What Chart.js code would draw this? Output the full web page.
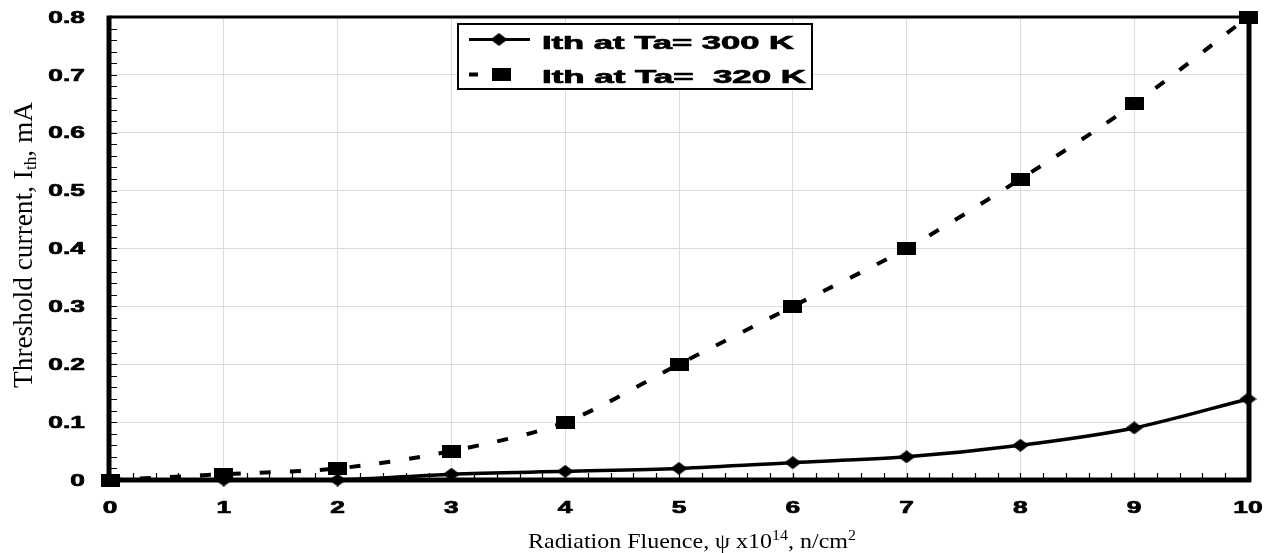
<!DOCTYPE html>
<html>
<head>
<meta charset="utf-8">
<script src="https://cdn.jsdelivr.net/npm/chart.js@4/dist/chart.umd.min.js"></script>
<style>
html,body{margin:0;padding:0;background:#fff;}
#wrap{width:1269px;height:553px;position:relative;}
</style>
</head>
<body>
<div id="wrap"><canvas id="c" width="1269" height="553"></canvas></div>
<script>
// ---- data ----
const fluence = [0, 1, 2, 3, 4, 5, 6, 7, 8, 9, 10];
const ith300 = [0, 0, 0, 0.01, 0.015, 0.02, 0.03, 0.04, 0.06, 0.09, 0.14];
const ith320 = [0, 0.01, 0.02, 0.05, 0.1, 0.2, 0.3, 0.4, 0.52, 0.65, 0.8];
const xTickLabels = ['0', '1', '2', '3', '4', '5', '6', '7', '8', '9', '10'];
const yTickLabels = ['0', '0.1', '0.2', '0.3', '0.4', '0.5', '0.6', '0.7', '0.8'];
const seriesLabels = ['Ith at Ta= 300 K', 'Ith at Ta=  320 K'];
const xTitleParts = [['Radiation Fluence, \u03C8 x10', false], ['14', true], [', n/cm', false], ['2', true]];
const yTitleParts = [['Threshold current, I', 0], ['th', 1], [', mA', 0]];

// ---- marker images ----
function makeSquare(w, h) {
  const c = document.createElement('canvas'); c.width = w; c.height = h;
  const g = c.getContext('2d'); g.fillStyle = '#000'; g.fillRect(0, 0, w, h); return c;
}
function makeDiamond(w, h) {
  const c = document.createElement('canvas'); c.width = w; c.height = h;
  const g = c.getContext('2d'); g.fillStyle = '#000';
  g.beginPath(); g.moveTo(w / 2, 0); g.lineTo(w, h / 2); g.lineTo(w / 2, h); g.lineTo(0, h / 2); g.closePath(); g.fill();
  return c;
}
const sq = makeSquare(19, 13);
const dia = makeDiamond(17, 13);

const SERIF = '"Liberation Serif","Times New Roman",serif';
const SANSB = '"Liberation Sans",Arial,sans-serif';
const TICKFONT = 'bold 17px ' + SANSB;
const STRETCH = 1.55;

function stretchedText(ctx, t, x, y, sx, align, heavy) {
  const w = ctx.measureText(t).width * sx;
  let x0 = x;
  if (align === 'right') x0 = x - w; else if (align === 'center') x0 = x - w / 2;
  ctx.save(); ctx.translate(x0, y); ctx.scale(sx, 1);
  ctx.fillText(t, 0, 0);
  if (heavy) { ctx.lineWidth = heavy; ctx.strokeStyle = ctx.fillStyle; ctx.lineJoin = 'round'; ctx.strokeText(t, 0, 0); }
  ctx.restore();
}

const framePlugin = {
  id: 'frame',
  beforeDatasetsDraw(chart) {
    const ctx = chart.ctx;
    const a = chart.chartArea, xs = chart.scales.x, ys = chart.scales.y;
    ctx.save();
    ctx.strokeStyle = '#000';
    // minor ticks
    ctx.lineWidth = 1.2;
    ctx.beginPath();
    for (let v = 0; v <= 0.8001; v += 0.02) {
      const y = Math.round(ys.getPixelForValue(v)) + 0.5;
      ctx.moveTo(a.left, y); ctx.lineTo(a.left + 7, y);
    }
    for (let v = 0; v <= 10.001; v += 0.2) {
      const x = Math.round(xs.getPixelForValue(v)) + 0.5;
      ctx.moveTo(x, a.bottom); ctx.lineTo(x, a.bottom - 7);
    }
    ctx.stroke();
    // frame
    ctx.lineWidth = 3;
    ctx.beginPath(); ctx.moveTo(a.left, a.top); ctx.lineTo(a.right + 2, a.top); ctx.stroke();
    ctx.lineWidth = 5;
    ctx.beginPath(); ctx.moveTo(a.left - 1, a.top - 1.5); ctx.lineTo(a.left - 1, a.bottom); ctx.stroke();
    ctx.beginPath(); ctx.moveTo(a.left - 3, a.bottom); ctx.lineTo(a.right + 3, a.bottom); ctx.stroke();
    ctx.beginPath(); ctx.moveTo(a.right + 1, a.top - 1.5); ctx.lineTo(a.right + 1, a.bottom + 2); ctx.stroke();

    // tick labels (positions from the library's scales)
    ctx.fillStyle = '#000';
    ctx.font = TICKFONT;
    ctx.textBaseline = 'middle';
    ys.ticks.forEach((tk, i) => {
      const y = ys.getPixelForValue(tk.value);
      stretchedText(ctx, yTickLabels[i] !== undefined ? yTickLabels[i] : String(tk.value), 85, y + 1, STRETCH, 'right', 0.7);
    });
    xs.ticks.forEach((tk, i) => {
      const x = xs.getPixelForValue(tk.value);
      stretchedText(ctx, xTickLabels[i] !== undefined ? xTickLabels[i] : String(tk.value), x, 508, STRETCH, 'center', 0.7);
    });
    ctx.restore();
  },
  afterDatasetsDraw(chart) {
    const ctx = chart.ctx, a = chart.chartArea;
    ctx.save();
    // legend
    const bx = 458, by = 24, bw = 354, bh = 65;
    ctx.fillStyle = '#fff'; ctx.fillRect(bx, by, bw, bh);
    ctx.strokeStyle = '#000'; ctx.lineWidth = 2; ctx.strokeRect(bx, by, bw, bh);
    ctx.lineWidth = 3; ctx.beginPath(); ctx.moveTo(469, 39.5); ctx.lineTo(530, 39.5); ctx.stroke();
    ctx.drawImage(dia, 499 - dia.width / 2, 39.5 - dia.height / 2);
    ctx.lineWidth = 4; ctx.beginPath(); ctx.moveTo(469, 74.5); ctx.lineTo(478, 74.5); ctx.stroke();
    ctx.drawImage(sq, 501 - sq.width / 2, 74.5 - sq.height / 2);
    ctx.fillStyle = '#000';
    ctx.font = 'bold 18px ' + SANSB;
    ctx.textBaseline = 'alphabetic';
    const rows = [[seriesLabels[0], 49, 252], [seriesLabels[1], 83, 264]];
    rows.forEach(([t, base, tw]) => {
      const w = ctx.measureText(t).width;
      stretchedText(ctx, t, 542, base, tw / w, 'left', 0.7);
    });
    // x title
    let big = '21px ' + SERIF, small = '14px ' + SERIF;
    let total = 0;
    xTitleParts.forEach(([t, sup]) => { ctx.font = sup ? small : big; total += ctx.measureText(t).width; });
    let sx = 328 / total;
    ctx.save();
    ctx.translate(528, 548); ctx.scale(sx, 1);
    let x = 0;
    xTitleParts.forEach(([t, sup]) => {
      ctx.font = sup ? small : big;
      ctx.fillText(t, x, sup ? -8 : 0);
      x += ctx.measureText(t).width;
    });
    ctx.restore();
    // y title
    big = '27px ' + SERIF; small = '17px ' + SERIF;
    total = 0;
    yTitleParts.forEach(([t, sub]) => { ctx.font = sub ? small : big; total += ctx.measureText(t).width; });
    sx = 286 / total;
    ctx.save();
    ctx.translate(32, 245);
    ctx.rotate(-Math.PI / 2);
    ctx.scale(sx, 1);
    let p = -total / 2;
    yTitleParts.forEach(([t, sub]) => {
      ctx.font = sub ? small : big;
      ctx.fillText(t, p, sub ? 4 : 0);
      p += ctx.measureText(t).width;
    });
    ctx.restore();
    ctx.restore();
  }
};

new Chart(document.getElementById('c'), {
  type: 'line',
  data: {
    datasets: [
      {
        label: seriesLabels[0],
        data: fluence.map((x, i) => ({ x: x, y: ith300[i] })),
        borderColor: '#000', borderWidth: 3.5,
        pointStyle: dia, pointRadius: 8, pointHoverRadius: 8,
        tension: 0.3, clip: false, order: 1, fill: false
      },
      {
        label: seriesLabels[1],
        data: fluence.map((x, i) => ({ x: x, y: ith320[i] })),
        borderColor: '#000', borderWidth: 4, borderDash: [11, 19],
        pointStyle: sq, pointRadius: 9, pointHoverRadius: 9,
        tension: 0.3, clip: false, order: 0, fill: false
      }
    ]
  },
  options: {
    responsive: false,
    animation: false,
    events: [],
    layout: { padding: { left: 0, right: 21, top: 17, bottom: 0 } },
    plugins: { legend: { display: false }, tooltip: { enabled: false } },
    scales: {
      x: {
        type: 'linear', min: 0, max: 10,
        afterFit(s) { s.height = 73; },
        ticks: { stepSize: 1, display: false },
        grid: { color: '#dcdcdc', lineWidth: 1, drawTicks: false },
        border: { display: false }
      },
      y: {
        min: 0, max: 0.8,
        afterFit(s) { s.width = 110; },
        ticks: { stepSize: 0.1, display: false },
        grid: { color: '#dcdcdc', lineWidth: 1, drawTicks: false },
        border: { display: false }
      }
    }
  },
  plugins: [framePlugin]
});
</script>
</body>
</html>
